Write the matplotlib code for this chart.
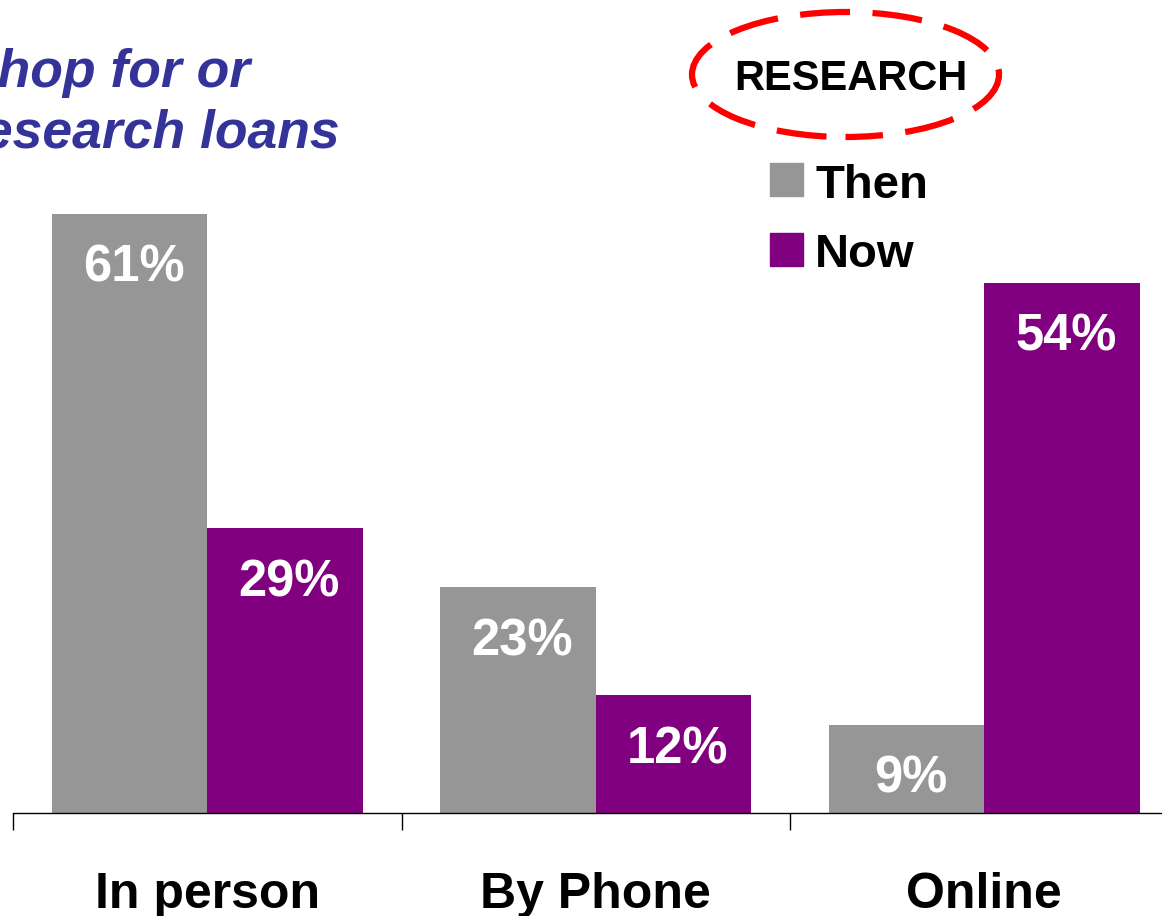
import matplotlib
matplotlib.use("Agg")
import matplotlib.pyplot as plt
from matplotlib.patches import Ellipse, Rectangle
import numpy as np

categories = ["In person", "By Phone", "Online"]
series = ["Then", "Now"]
then_vals = [61, 23, 9]
now_vals = [29, 12, 54]
colors = ["#969696", "#800080"]
title_lines = ["Shop for or", "research loans"]
badge = "RESEARCH"

W, H = 1162, 916
plt.rcParams['font.family'] = ['Liberation Sans', 'DejaVu Sans']
fig = plt.figure(figsize=(W / 100, H / 100), dpi=100)

def fx(x):
    return x / W

def fy(y):
    return 1 - y / H

ax_left, ax_bottom_px, cat_px = 13, 813, 388.5
ax = fig.add_axes([fx(ax_left), fy(ax_bottom_px), 3 * cat_px / W, ax_bottom_px / H])
ax.set_xlim(-0.5, 2.5)
ax.set_ylim(0, 813 / 9.824)

x = np.arange(len(categories))
bw = 0.4
vals = [then_vals, now_vals]
for i, (s, v) in enumerate(zip(series, vals)):
    off = (i - 0.5) * bw
    bars = ax.bar(x + off, v, width=bw, color=colors[i], label=s, zorder=2)
    for xi, vi in zip(x + off, v):
        ax.annotate(f"{vi}%", xy=(xi, vi), xytext=(4, -68), textcoords="offset pixels",
                    ha="center", va="baseline", color="white", fontsize=36.5,
                    fontweight="bold", zorder=3)

for sp in ["left", "top", "right"]:
    ax.spines[sp].set_visible(False)
ax.spines["bottom"].set_linewidth(1.0)
ax.spines["bottom"].set_zorder(3)
ax.set_yticks([])
ax.set_xticks(np.arange(-0.5, 3.0, 1.0))
ax.set_xticklabels([])
ax.tick_params(axis="x", direction="out", length=12, width=1.0)
for xi, c in zip(x, categories):
    ax.text(xi, -95 / 813, c, transform=ax.get_xaxis_transform(), ha="center",
            va="baseline", fontsize=36, fontweight="bold", color="black")

# title (cut off at left edge, as in the original)
fig.text(fx(250), fy(87), title_lines[0], ha="right", va="baseline", fontsize=38.5,
         fontweight="bold", fontstyle="italic", color="#333399")
fig.text(fx(340), fy(148), title_lines[1], ha="right", va="baseline", fontsize=38.5,
         fontweight="bold", fontstyle="italic", color="#333399")

# RESEARCH badge
ell = Ellipse((fx(845.5), fy(74.5)), 307 / W, 125 / H, transform=fig.transFigure,
              fill=False, edgecolor="#FF0000", linewidth=4.5,
              linestyle=(2, (8.0, 3.6)))
fig.add_artist(ell)
fig.text(fx(851), fy(90), badge, ha="center", va="baseline", fontsize=30,
         fontweight="bold", color="black")

# legend
leg_rows = [(163, 198), (233, 267)]
for (top, base), s, c in zip(leg_rows, series, colors):
    fig.add_artist(Rectangle((fx(770), fy(top + 33)), 33 / W, 33 / H,
                             transform=fig.transFigure, color=c))
    fig.text(fx(815), fy(base), s, ha="left", va="baseline", fontsize=34,
             fontweight="bold", color="black")

fig.savefig("out.png", dpi=100)
